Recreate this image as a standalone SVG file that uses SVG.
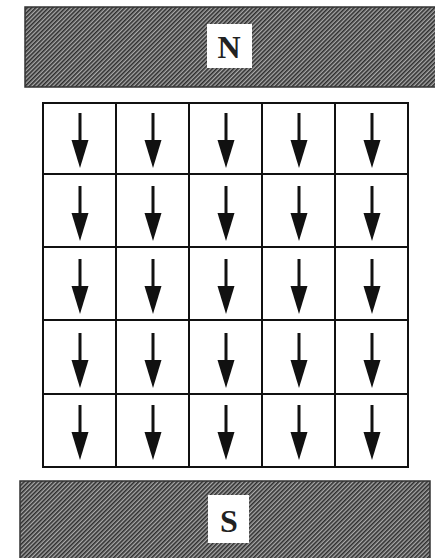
<svg xmlns="http://www.w3.org/2000/svg" width="435" height="558" viewBox="0 0 435 558">
<defs>
<pattern id="hatch" width="3" height="3" patternUnits="userSpaceOnUse" patternTransform="rotate(45)">
<rect width="3" height="3" fill="#a9a9a9"/>
<rect x="0" y="0" width="1.6" height="3" fill="#2e2e2e"/>
</pattern>
<style>
.mag{fill:url(#hatch);stroke:#333;stroke-width:1.5}
.lbl{fill:#fff}
.pole{font-family:"Liberation Serif","DejaVu Serif",serif;font-size:32px;font-weight:bold;fill:#222;text-anchor:middle}
.grid{fill:none;stroke:#111;stroke-width:2}
.arr{stroke:#111;stroke-width:3;fill:none}
.head{fill:#111}
</style>
</defs>
<rect width="435" height="558" fill="#fff"/>
<g id="magnet-N">
<rect class="mag" x="25" y="7" width="415" height="80"/>
<rect class="lbl" x="207" y="24" width="45" height="44"/>
<text class="pole" x="229" y="58">N</text>
</g>
<g id="magnet-S">
<rect class="mag" x="20" y="481" width="410" height="82"/>
<rect class="lbl" x="208" y="495" width="41" height="48"/>
<text class="pole" x="229" y="532">S</text>
</g>
<g id="grid">
<rect class="grid" x="43" y="103" width="365" height="364"/>
<path class="grid" d="M116,103V467M189,103V467M262,103V467M335,103V467M43,174H408M43,247H408M43,320H408M43,394H408"/>
</g>
<g id="connectors">
<g id="arrows-r1">
<path class="arr" d="M80,113V142"/><path class="head" d="M71.5,140H88.5L80,168Z"/>
<path class="arr" d="M153,113V142"/><path class="head" d="M144.5,140H161.5L153,168Z"/>
<path class="arr" d="M226,113V142"/><path class="head" d="M217.5,140H234.5L226,168Z"/>
<path class="arr" d="M299,113V142"/><path class="head" d="M290.5,140H307.5L299,168Z"/>
<path class="arr" d="M372,113V142"/><path class="head" d="M363.5,140H380.5L372,168Z"/>
</g>
<g id="arrows-r2">
<path class="arr" d="M80,186V215"/><path class="head" d="M71.5,213H88.5L80,241Z"/>
<path class="arr" d="M153,186V215"/><path class="head" d="M144.5,213H161.5L153,241Z"/>
<path class="arr" d="M226,186V215"/><path class="head" d="M217.5,213H234.5L226,241Z"/>
<path class="arr" d="M299,186V215"/><path class="head" d="M290.5,213H307.5L299,241Z"/>
<path class="arr" d="M372,186V215"/><path class="head" d="M363.5,213H380.5L372,241Z"/>
</g>
<g id="arrows-r3">
<path class="arr" d="M80,259V288"/><path class="head" d="M71.5,286H88.5L80,314Z"/>
<path class="arr" d="M153,259V288"/><path class="head" d="M144.5,286H161.5L153,314Z"/>
<path class="arr" d="M226,259V288"/><path class="head" d="M217.5,286H234.5L226,314Z"/>
<path class="arr" d="M299,259V288"/><path class="head" d="M290.5,286H307.5L299,314Z"/>
<path class="arr" d="M372,259V288"/><path class="head" d="M363.5,286H380.5L372,314Z"/>
</g>
<g id="arrows-r4">
<path class="arr" d="M80,333V362"/><path class="head" d="M71.5,360H88.5L80,388Z"/>
<path class="arr" d="M153,333V362"/><path class="head" d="M144.5,360H161.5L153,388Z"/>
<path class="arr" d="M226,333V362"/><path class="head" d="M217.5,360H234.5L226,388Z"/>
<path class="arr" d="M299,333V362"/><path class="head" d="M290.5,360H307.5L299,388Z"/>
<path class="arr" d="M372,333V362"/><path class="head" d="M363.5,360H380.5L372,388Z"/>
</g>
<g id="arrows-r5">
<path class="arr" d="M80,405V434"/><path class="head" d="M71.5,432H88.5L80,460Z"/>
<path class="arr" d="M153,405V434"/><path class="head" d="M144.5,432H161.5L153,460Z"/>
<path class="arr" d="M226,405V434"/><path class="head" d="M217.5,432H234.5L226,460Z"/>
<path class="arr" d="M299,405V434"/><path class="head" d="M290.5,432H307.5L299,460Z"/>
<path class="arr" d="M372,405V434"/><path class="head" d="M363.5,432H380.5L372,460Z"/>
</g>
</g>
</svg>
